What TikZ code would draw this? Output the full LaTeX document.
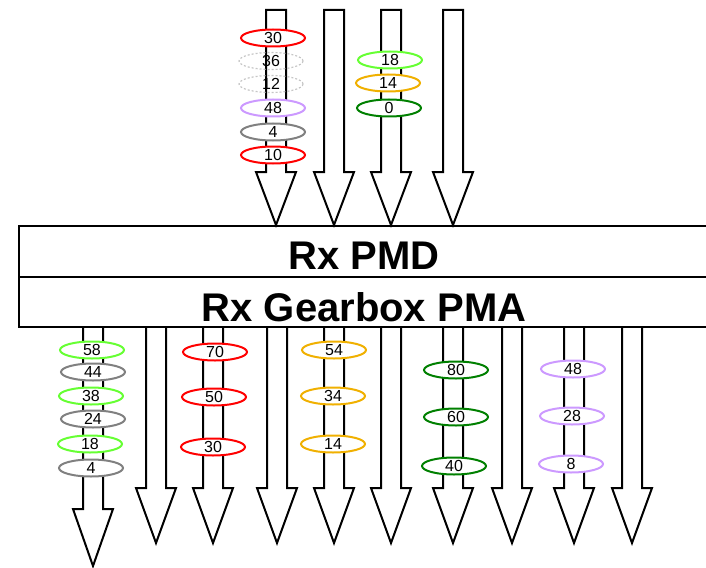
\documentclass[tikz,border=0pt]{standalone}
\usepackage{fontspec}
\setmainfont{Liberation Sans}
\usepackage{xcolor}
\usepackage{tikz}
\usetikzlibrary{shapes.geometric}

\definecolor{laneRed}{RGB}{255,0,0}
\definecolor{laneGrey}{RGB}{128,128,128}
\definecolor{laneLilac}{RGB}{204,153,255}
\definecolor{laneLime}{RGB}{102,255,51}
\definecolor{laneAmber}{RGB}{240,176,0}
\definecolor{laneForest}{RGB}{0,128,0}

\begin{document}
\begin{tikzpicture}[
    x=1pt, y=-1pt,
    blk/.style={draw, line width=2pt, fill=white, line join=miter},
    layer/.style={draw, line width=2pt, minimum width=690pt, inner sep=0pt, text depth=0pt, font=\fontsize{40}{40}\selectfont\bfseries},
    lane/.style={draw, ellipse, line width=2pt, fill=white, minimum width=64pt, minimum height=17pt, inner sep=0pt, font=\fontsize{16}{16}\selectfont},
    idle/.style={lane, draw=gray!45, dotted, line width=1.2pt, fill=none}
]
    \useasboundingbox (0,0) rectangle (706,567);

    % incoming lanes
    \foreach \x in {276,334,391,453}
        \draw[blk] (\x-10,10) -- (\x-10,172) -- (\x-20,172) -- (\x,225) -- (\x+20,172) -- (\x+10,172) -- (\x+10,10) -- cycle;

    % outgoing lanes
    \draw[blk] (83,327) -- (83,509) -- (73,509) -- (93,566) -- (113,509) -- (103,509) -- (103,327);
    \foreach \x in {156,213,277,334,391,453,512,574,632}
        \draw[blk] (\x-10,327) -- (\x-10,488) -- (\x-20,488) -- (\x,543) -- (\x+20,488) -- (\x+10,488) -- (\x+10,327);

    % sublayers
    \node[layer, minimum height=51pt, text height=35pt] (pmd) at (364,251.5) {Rx PMD};
    \node[layer, minimum height=50pt, text height=38pt] (pma) at (364,302) {Rx Gearbox PMA};

    % lanes into the PMD
    \node[lane, draw=laneRed]    (i30) at (273,38)  {30};
    \node[idle]                  (i36) at (271,61)  {36};
    \node[idle]                  (i12) at (271,84)  {12};
    \node[lane, draw=laneLilac]  (i48) at (273,108) {48};
    \node[lane, draw=laneGrey]   (i4)  at (273,132) {4};
    \node[lane, draw=laneRed]    (i10) at (273,155) {10};

    \node[lane, draw=laneLime]   (i18) at (390,60)  {18};
    \node[lane, draw=laneAmber]  (i14) at (388,83)  {14};
    \node[lane, draw=laneForest] (i0)  at (389,108) {0};

    % lanes out of the gearbox
    \node[lane, draw=laneLime]   (o58) at (92,350)  {58};
    \node[lane, draw=laneGrey]   (o44) at (93,372)  {44};
    \node[lane, draw=laneLime]   (o38) at (91,396)  {38};
    \node[lane, draw=laneGrey]   (o24) at (93,419)  {24};
    \node[lane, draw=laneLime]   (o18) at (90,444)  {18};
    \node[lane, draw=laneGrey]   (o4)  at (91,468)  {4};

    \node[lane, draw=laneRed]    (o70) at (215,352) {70};
    \node[lane, draw=laneRed]    (o50) at (214,397) {50};
    \node[lane, draw=laneRed]    (o30) at (213,447) {30};

    \node[lane, draw=laneAmber]  (o54) at (334,350) {54};
    \node[lane, draw=laneAmber]  (o34) at (333,396) {34};
    \node[lane, draw=laneAmber]  (o14) at (333,444) {14};

    \node[lane, draw=laneForest] (o80) at (456,370) {80};
    \node[lane, draw=laneForest] (o60) at (456,417) {60};
    \node[lane, draw=laneForest] (o40) at (454,466) {40};

    \node[lane, draw=laneLilac]  (o48) at (573,369) {48};
    \node[lane, draw=laneLilac]  (o28) at (572,416) {28};
    \node[lane, draw=laneLilac]  (o8)  at (571,464) {8};
\end{tikzpicture}
\end{document}
